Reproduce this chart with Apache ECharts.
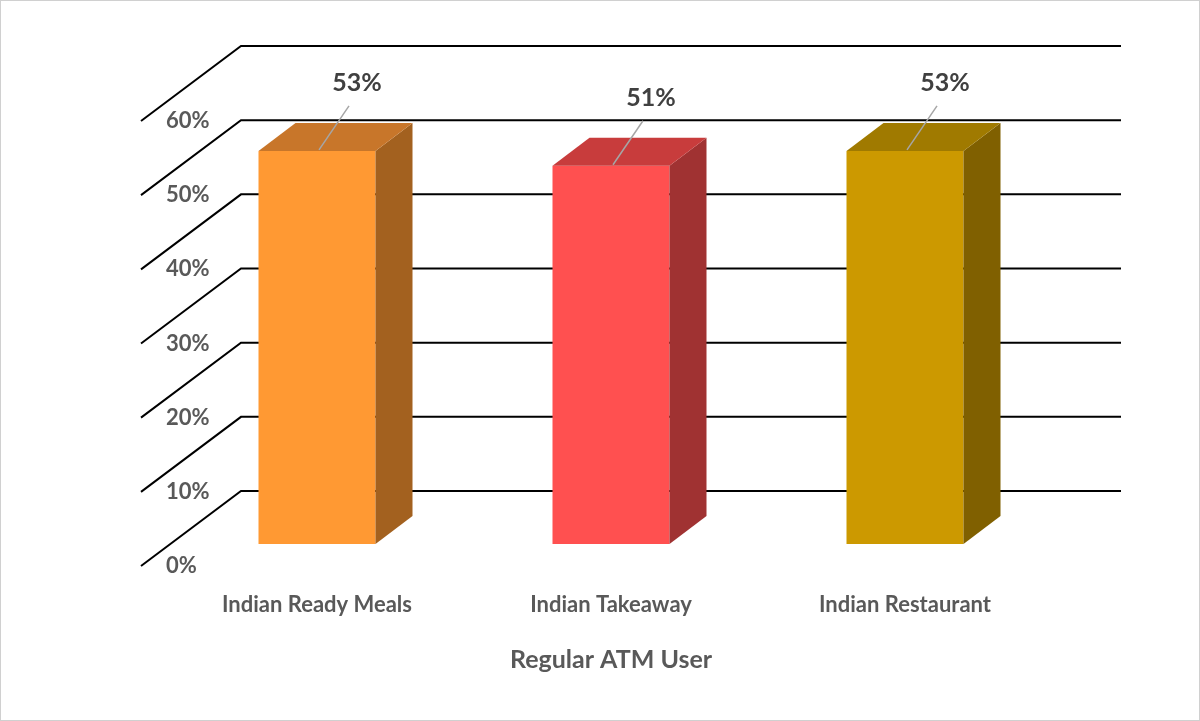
<!DOCTYPE html>
<html><head><meta charset="utf-8">
<script src="https://cdn.jsdelivr.net/npm/echarts@6/dist/echarts.min.js"></script>
<style>html,body{margin:0;padding:0;background:#fff}#c{width:1200px;height:721px;box-sizing:border-box;border:1px solid #d0d0d0}</style>
</head><body><div id="c"></div>
<script>
const categories = ['Indian Ready Meals', 'Indian Takeaway', 'Indian Restaurant'];
const values = [0.53, 0.51, 0.53];
const labels = ['53%', '51%', '53%'];
const ticks = [0, 0.1, 0.2, 0.3, 0.4, 0.5, 0.6];
const fronts = ['#FF9933', '#FF5050', '#CC9900'];
const sides = ['#A3611F', '#A03232', '#806000'];
const tops = ['#C8762A', '#C83C3C', '#A07A00'];
const FONT = 'Lato, "Open Sans", sans-serif';
const chart = echarts.init(document.getElementById('c'));
chart.setOption({
  animation: false,
  grid: [
    {left: 169, width: 882, top: 98, height: 445},
    {left: 0, width: 140, top: 120, height: 445}
  ],
  xAxis: [
    {gridIndex: 0, type: 'category', data: categories, axisLine: {show: false}, axisTick: {show: false},
     axisLabel: {margin: 50, color: '#595959', fontSize: 22, fontWeight: 'bold', fontFamily: FONT},
     name: 'Regular ATM User', nameLocation: 'middle', nameGap: 103,
     nameTextStyle: {color: '#595959', fontSize: 25, fontWeight: 'bold', fontFamily: FONT}},
    {gridIndex: 1, type: 'value', show: false, min: 0, max: 1}
  ],
  yAxis: [
    {gridIndex: 0, type: 'value', min: 0, max: 0.6, show: false},
    {gridIndex: 1, type: 'value', min: 0, max: 0.6, interval: 0.1, position: 'right',
     axisLine: {show: false}, axisTick: {show: false}, splitLine: {show: false},
     axisLabel: {inside: false, margin: 25, color: '#595959', fontSize: 22, fontWeight: 'bold', fontFamily: FONT,
       formatter: v => Math.round(v * 100) + '%'}}
  ],
  series: [
    {type: 'custom', xAxisIndex: 1, yAxisIndex: 1, data: ticks.map(t => [0, t]), silent: true, z: 1,
     renderItem: (params, api) => {
       const p = api.coord([0, api.value(1)]);
       return {type: 'polyline', shape: {points: [[140, p[1]], [240, p[1] - 75], [1120, p[1] - 75]]},
         style: {stroke: '#000', lineWidth: 2, fill: null}};
     }},
    {type: 'custom', xAxisIndex: 0, yAxisIndex: 0, data: values.map((v, i) => [i, v]), z: 5,
     renderItem: (params, api) => {
       const i = params.dataIndex;
       const top = api.coord([i, api.value(1)]);
       const base = api.coord([i, 0]);
       const w = 117, dx = 37, dy = -28;
       const x0 = top[0] - w / 2, x1 = top[0] + w / 2;
       return {type: 'group', children: [
         {type: 'rect', shape: {x: x0, y: top[1], width: w, height: base[1] - top[1]}, style: {fill: fronts[i]}},
         {type: 'polygon', shape: {points: [[x1, top[1]], [x1 + dx, top[1] + dy], [x1 + dx, base[1] + dy], [x1, base[1]]]}, style: {fill: sides[i]}},
         {type: 'polygon', shape: {points: [[x0, top[1]], [x0 + dx, top[1] + dy], [x1 + dx, top[1] + dy], [x1, top[1]]]}, style: {fill: tops[i]}},
         {type: 'line', shape: {x1: top[0] + 2, y1: top[1] - 1, x2: top[0] + 32, y2: top[1] - 45}, style: {stroke: '#a6a6a6', lineWidth: 1.5}},
         {type: 'text', style: {text: labels[i], x: top[0] + 40, y: top[1] - 68, align: 'center', verticalAlign: 'middle',
           fill: '#404040', font: 'bold 25px ' + FONT}}
       ]};
     }}
  ]
});
</script></body></html>
